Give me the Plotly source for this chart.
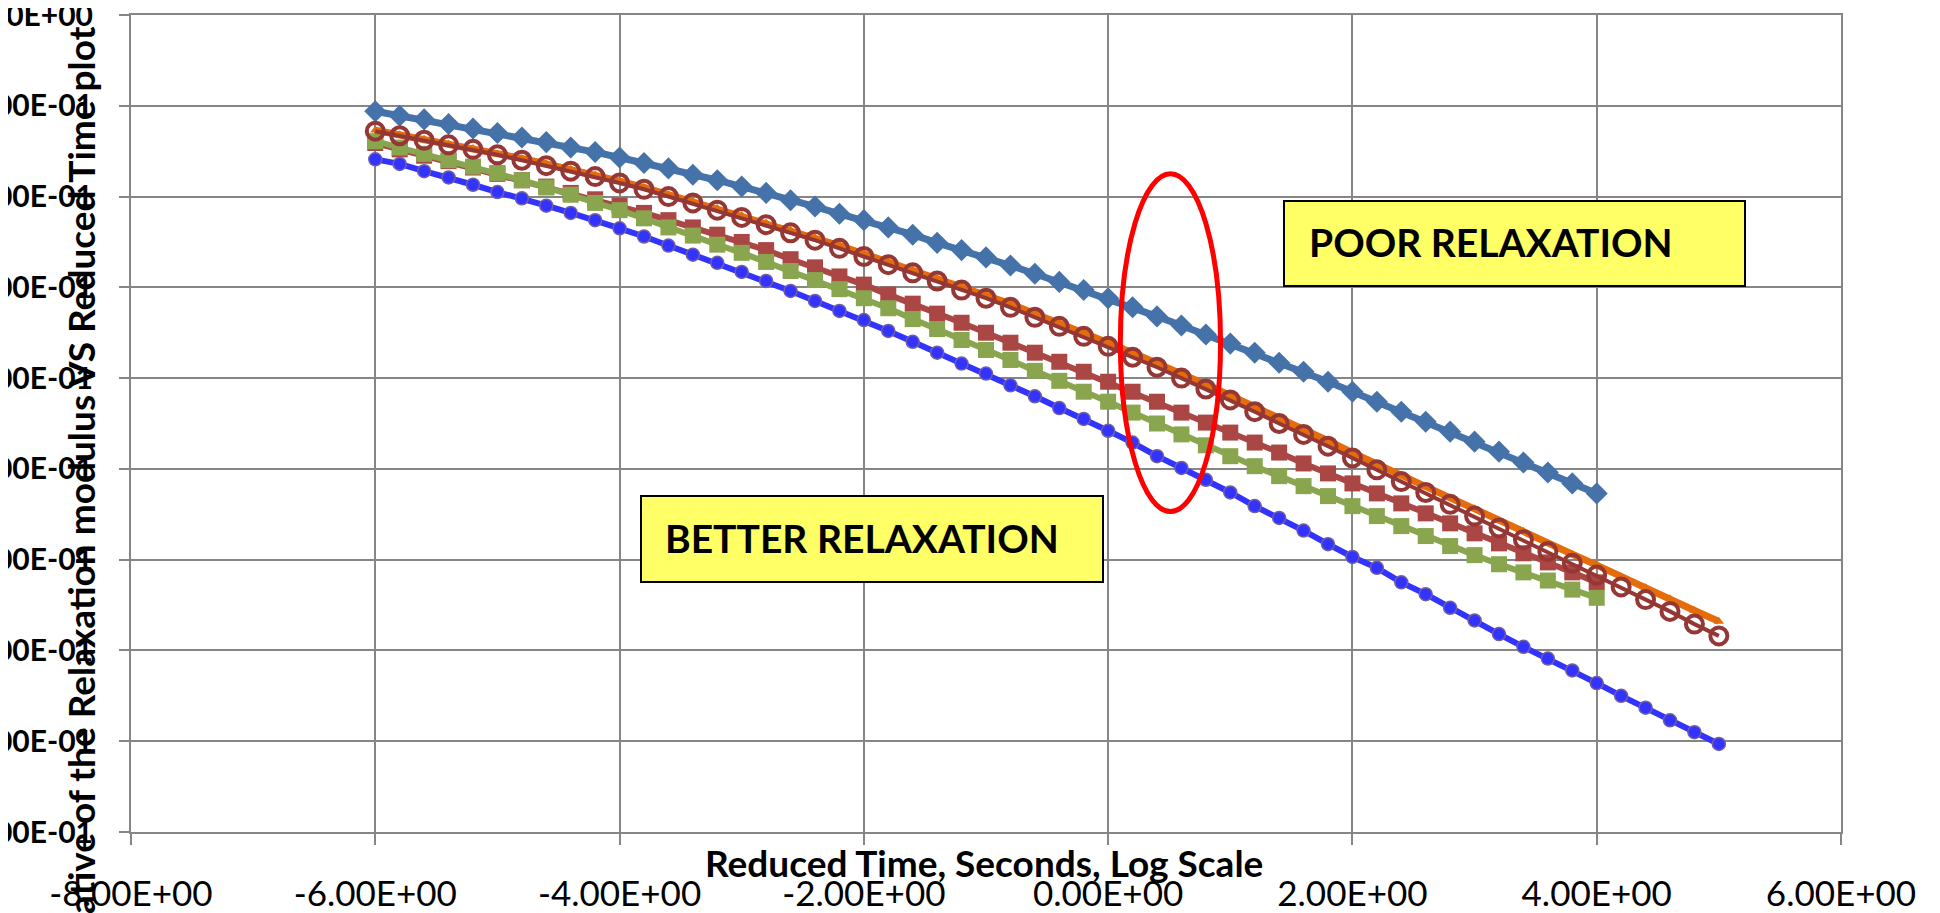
import plotly.graph_objects as go

# Reduced time (log scale), 0.2 steps
x_long = [-6.0, -5.8, -5.6, -5.4, -5.2, -5.0, -4.8, -4.6, -4.4, -4.2,
          -4.0, -3.8, -3.6, -3.4, -3.2, -3.0, -2.8, -2.6, -2.4, -2.2,
          -2.0, -1.8, -1.6, -1.4, -1.2, -1.0, -0.8, -0.6, -0.4, -0.2,
          0.0, 0.2, 0.4, 0.6, 0.8, 1.0, 1.2, 1.4, 1.6, 1.8,
          2.0, 2.2, 2.4, 2.6, 2.8, 3.0, 3.2, 3.4, 3.6, 3.8,
          4.0, 4.2, 4.4, 4.6, 4.8, 5.0]
x_short = x_long[:51]

diamond_vals = [0.894, 0.889, 0.885, 0.880, 0.875, 0.870, 0.865, 0.860, 0.854, 0.849,
                0.843, 0.837, 0.831, 0.824, 0.818, 0.811, 0.804, 0.796, 0.789, 0.781,
                0.774, 0.766, 0.758, 0.749, 0.741, 0.733, 0.724, 0.715, 0.706, 0.697,
                0.688, 0.678, 0.668, 0.658, 0.648, 0.638, 0.628, 0.617, 0.607, 0.596,
                0.585, 0.574, 0.563, 0.552, 0.541, 0.530, 0.519, 0.507, 0.496, 0.484,
                0.473]

red_sq_vals = [0.859, 0.852, 0.845, 0.839, 0.832, 0.825, 0.818, 0.811, 0.804, 0.797,
               0.790, 0.782, 0.774, 0.766, 0.758, 0.750, 0.741, 0.731, 0.722, 0.712,
               0.703, 0.692, 0.682, 0.671, 0.661, 0.650, 0.639, 0.628, 0.618, 0.607,
               0.596, 0.585, 0.574, 0.562, 0.551, 0.540, 0.529, 0.518, 0.506, 0.495,
               0.484, 0.473, 0.462, 0.451, 0.440, 0.429, 0.418, 0.407, 0.397, 0.386,
               0.375]

green_sq_vals = [0.861, 0.854, 0.847, 0.840, 0.833, 0.826, 0.818, 0.810, 0.802, 0.793,
                 0.785, 0.776, 0.766, 0.757, 0.747, 0.738, 0.728, 0.718, 0.708, 0.698,
                 0.688, 0.677, 0.665, 0.654, 0.642, 0.631, 0.620, 0.608, 0.597, 0.585,
                 0.574, 0.562, 0.550, 0.538, 0.526, 0.514, 0.503, 0.492, 0.481, 0.470,
                 0.459, 0.448, 0.437, 0.426, 0.415, 0.405, 0.395, 0.386, 0.377, 0.367,
                 0.358]

orange_vals = [0.873, 0.868, 0.863, 0.858, 0.853, 0.847, 0.842, 0.836, 0.830, 0.824,
               0.817, 0.810, 0.802, 0.795, 0.787, 0.779, 0.771, 0.763, 0.755, 0.746,
               0.737, 0.728, 0.719, 0.710, 0.701, 0.692, 0.682, 0.671, 0.661, 0.650,
               0.639, 0.628, 0.617, 0.605, 0.593, 0.581, 0.569, 0.556, 0.544, 0.531,
               0.518, 0.505, 0.493, 0.480, 0.468, 0.456, 0.443, 0.431, 0.418, 0.406,
               0.394, 0.381, 0.369, 0.357, 0.344, 0.332]

brown_circ_vals = [0.872, 0.867, 0.862, 0.857, 0.852, 0.846, 0.840, 0.834, 0.828, 0.822,
                   0.815, 0.808, 0.800, 0.793, 0.785, 0.777, 0.769, 0.760, 0.752, 0.743,
                   0.734, 0.725, 0.716, 0.707, 0.697, 0.688, 0.678, 0.667, 0.657, 0.646,
                   0.635, 0.623, 0.612, 0.600, 0.588, 0.576, 0.563, 0.550, 0.538, 0.525,
                   0.512, 0.499, 0.486, 0.474, 0.461, 0.448, 0.435, 0.422, 0.409, 0.396,
                   0.383, 0.370, 0.356, 0.343, 0.329, 0.316]

blue_dot_vals = [0.841, 0.836, 0.828, 0.821, 0.813, 0.805, 0.798, 0.790, 0.782, 0.774,
                 0.765, 0.756, 0.746, 0.736, 0.727, 0.717, 0.707, 0.696, 0.685, 0.674,
                 0.664, 0.652, 0.640, 0.628, 0.616, 0.605, 0.592, 0.580, 0.567, 0.555,
                 0.542, 0.529, 0.514, 0.501, 0.488, 0.474, 0.459, 0.446, 0.432, 0.417,
                 0.403, 0.391, 0.375, 0.362, 0.347, 0.333, 0.318, 0.304, 0.291, 0.278,
                 0.264, 0.250, 0.237, 0.223, 0.210, 0.197]

x_tickvals = [-8, -6, -4, -2, 0, 2, 4, 6]
x_ticktext = ["-8.00E+00", "-6.00E+00", "-4.00E+00", "-2.00E+00",
              "0.00E+00", "2.00E+00", "4.00E+00", "6.00E+00"]
y_tickvals = [0.1, 0.2, 0.3, 0.4, 0.5, 0.6, 0.7, 0.8, 0.9, 1.0]
y_ticktext = ["1.00E-01", "2.00E-01", "3.00E-01", "4.00E-01", "5.00E-01",
              "6.00E-01", "7.00E-01", "8.00E-01", "9.00E-01", "1.00E+00"]

# the page body adds an 8px margin, so the figure is shrunk by that much
PAGE_OFF = 8
W, H = 1940 - PAGE_OFF, 913 - PAGE_OFF
L, R, T, B = 131 - PAGE_OFF, 99, 15 - PAGE_OFF, 81
GRID = '#868686'
FONT = 'Lato'

# plot area on the page: x 131..1841, y 15..832
PX0, PX1, PY0, PY1 = 131, 1841, 15, 832


def fx(px):
    # page pixel column -> paper x
    return (px - PX0) / (PX1 - PX0)


def fy(py):
    # page pixel row -> paper y
    return (PY1 - py) / (PY1 - PY0)


fig = go.Figure()

fig.add_trace(go.Scatter(
    x=x_short, y=diamond_vals, mode='lines+markers',
    line=dict(color='#4672AA', width=7),
    marker=dict(symbol='diamond', size=17, color='#4672AA')
))
fig.add_trace(go.Scatter(
    x=x_short, y=red_sq_vals, mode='lines+markers',
    line=dict(color='#AA4643', width=6),
    marker=dict(symbol='square', size=16, color='#AA4643')
))
fig.add_trace(go.Scatter(
    x=x_short, y=green_sq_vals, mode='lines+markers',
    line=dict(color='#89A54E', width=6),
    marker=dict(symbol='square', size=16, color='#89A54E')
))
fig.add_trace(go.Scatter(
    x=x_long, y=orange_vals, mode='lines+markers',
    line=dict(color='#E46C0A', width=7),
    marker=dict(symbol='triangle-up', size=9, color='#E46C0A')
))
fig.add_trace(go.Scatter(
    x=x_long, y=brown_circ_vals, mode='lines+markers',
    line=dict(color='#953735', width=4),
    marker=dict(symbol='circle-open', size=17, color='#953735',
                line=dict(width=4, color='#953735'))
))
fig.add_trace(go.Scatter(
    x=x_long, y=blue_dot_vals, mode='lines+markers',
    line=dict(color='#3333FF', width=6),
    marker=dict(symbol='circle', size=13, color='#3333FF',
                line=dict(width=1.5, color='#7060A0'))
))

# yellow callout boxes
fig.add_shape(type='rect', xref='paper', yref='paper',
              x0=fx(641), x1=fx(1103), y0=fy(582), y1=fy(496),
              fillcolor='#FFFF66', line=dict(color='black', width=2))
fig.add_shape(type='rect', xref='paper', yref='paper',
              x0=fx(1284), x1=fx(1745), y0=fy(286), y1=fy(201),
              fillcolor='#FFFF66', line=dict(color='black', width=2))

# red ellipse around the crossover region
fig.add_shape(type='circle', xref='x', yref='y',
              x0=0.10, x1=0.92, y0=0.453, y1=0.825,
              line=dict(color='#FF0000', width=5))

fig.add_annotation(text='<b>BETTER RELAXATION</b>', xref='paper', yref='paper',
                   x=fx(663), y=fy(538), xanchor='left', yanchor='middle',
                   showarrow=False, font=dict(family=FONT, size=39, color='black'))
fig.add_annotation(text='<b>POOR RELAXATION</b>', xref='paper', yref='paper',
                   x=fx(1307), y=fy(242), xanchor='left', yanchor='middle',
                   showarrow=False, font=dict(family=FONT, size=39, color='black'))

# axis titles (placed by hand, as in the original they overlap the tick labels)
fig.add_annotation(text='<b>Reduced Time, Seconds, Log Scale</b>', xref='paper', yref='paper',
                   x=fx(984), y=fy(862), xanchor='center', yanchor='middle',
                   showarrow=False, font=dict(family=FONT, size=37, color='black'))
fig.add_annotation(text='<b>Derivative of the Relaxation modulus VS Reduced Time plot</b>',
                   xref='paper', yref='paper', textangle=-90,
                   x=fx(80), y=fy(24), xanchor='center', yanchor='top',
                   showarrow=False, font=dict(family=FONT, size=37, color='black'))

fig.update_layout(
    width=W, height=H,
    margin=dict(l=L, r=R, t=T, b=B, autoexpand=False),
    plot_bgcolor='white',
    paper_bgcolor='white',
    showlegend=False,
    font=dict(family=FONT, color='black'),
    xaxis=dict(
        range=[-8, 6], tickmode='array', tickvals=x_tickvals, ticktext=x_ticktext,
        showgrid=True, gridcolor=GRID, gridwidth=2, zeroline=False,
        showline=True, linecolor=GRID, linewidth=2, mirror=True,
        ticks='outside', ticklen=11, tickwidth=2, tickcolor=GRID,
        tickfont=dict(family=FONT, size=35, color='black'),
        ticklabelstandoff=19, ticklabeloverflow='allow', automargin=False
    ),
    yaxis=dict(
        range=[0.1, 1.0], tickmode='array', tickvals=y_tickvals, ticktext=y_ticktext,
        showgrid=True, gridcolor=GRID, gridwidth=2, zeroline=False,
        showline=True, linecolor=GRID, linewidth=2, mirror=True,
        ticks='outside', ticklen=10, tickwidth=2, tickcolor=GRID,
        tickfont=dict(family=FONT, size=30, color='black', weight='bold'),
        ticklabelstandoff=20, ticklabeloverflow='allow', automargin=False
    ),
)

fig.write_html("out.html")
